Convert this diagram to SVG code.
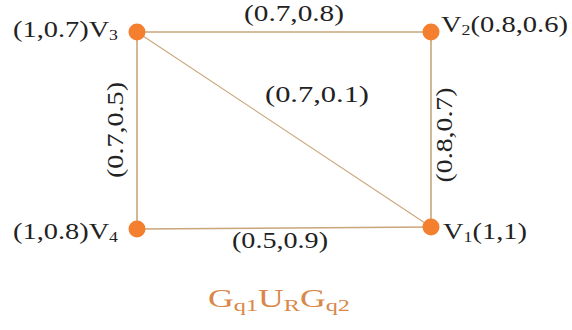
<svg xmlns="http://www.w3.org/2000/svg" width="572" height="330" viewBox="0 0 572 330">
<style>
.e{stroke:#C9A67A;stroke-width:1.6;fill:none}
.d{stroke:#C9A67A;stroke-width:1.1;fill:none}
.n{fill:#F37F2F}
.t{font-family:"Liberation Serif","Times New Roman",serif;font-size:24px;fill:#222}
.s{font-size:15px}
.ti{font-family:"Liberation Serif","Times New Roman",serif;font-size:25px;fill:#D9874A}
.ts{font-size:17px}
</style>
<rect width="572" height="330" fill="#fff"/>
<g id="connectors">
<line class="e" x1="137" y1="32" x2="431" y2="32"/>
<line class="e" x1="137" y1="32" x2="137" y2="229"/>
<line class="e" x1="431" y1="32" x2="431" y2="227"/>
<line class="e" x1="137" y1="229" x2="431" y2="227"/>
<line class="d" x1="137" y1="32" x2="431" y2="227"/>
<text class="t" x="294" y="21" text-anchor="middle" textLength="100" lengthAdjust="spacingAndGlyphs">(0.7,0.8)</text>
<text class="t" x="317" y="102" text-anchor="middle" textLength="104" lengthAdjust="spacingAndGlyphs">(0.7,0.1)</text>
<text class="t" x="280" y="248" text-anchor="middle" textLength="96" lengthAdjust="spacingAndGlyphs">(0.5,0.9)</text>
<text class="t" transform="translate(123,130) rotate(-90)" text-anchor="middle" textLength="96" lengthAdjust="spacingAndGlyphs">(0.7,0.5)</text>
<text class="t" transform="translate(452,135) rotate(-90)" text-anchor="middle" textLength="95" lengthAdjust="spacingAndGlyphs">(0.8,0.7)</text>
</g>
<g id="v3">
<circle class="n" cx="137" cy="32" r="8.5"/>
<text class="t" x="13" y="37" textLength="105" lengthAdjust="spacingAndGlyphs">(1,0.7)V<tspan class="s" dy="3">3</tspan></text>
</g>
<g id="v2">
<circle class="n" cx="431" cy="32" r="8.5"/>
<text class="t" x="441" y="32" textLength="127" lengthAdjust="spacingAndGlyphs">V<tspan class="s" dy="3">2</tspan><tspan dy="-3">(0.8,0.6)</tspan></text>
</g>
<g id="v4">
<circle class="n" cx="137" cy="229" r="8.5"/>
<text class="t" x="13" y="239" textLength="105" lengthAdjust="spacingAndGlyphs">(1,0.8)V<tspan class="s" dy="3">4</tspan></text>
</g>
<g id="v1">
<circle class="n" cx="431" cy="227" r="8.5"/>
<text class="t" x="443" y="239" textLength="84" lengthAdjust="spacingAndGlyphs">V<tspan class="s" dy="3">1</tspan><tspan dy="-3">(1,1)</tspan></text>
</g>
<g id="title">
<text class="ti" x="208" y="307" textLength="142" lengthAdjust="spacingAndGlyphs">G<tspan class="ts" dy="4">q1</tspan><tspan dy="-4">U</tspan><tspan class="ts" dy="4">R</tspan><tspan dy="-4">G</tspan><tspan class="ts" dy="4">q2</tspan></text>
</g>
</svg>
